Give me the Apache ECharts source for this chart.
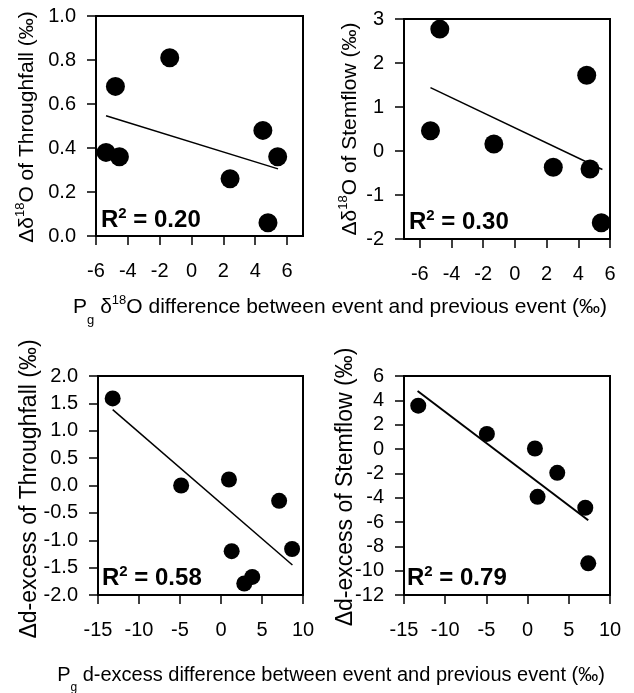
<!DOCTYPE html>
<html>
<head>
<meta charset="utf-8">
<script src="https://cdn.jsdelivr.net/npm/echarts@6/dist/echarts.min.js"></script>
<style>
  html, body { margin: 0; padding: 0; background: #fff; }
  #chart { width: 634px; height: 693px; }
</style>
</head>
<body>
<div id="chart"></div>
<script>
// Pg δ18O change vs Δδ18O of throughfall (TF) and stemflow (SF)
const o18DiffTF  = [-5.37, -4.78, -4.53, -1.37, 2.42, 4.48, 5.41, 4.80];
const o18DeltaTF = [0.38, 0.68, 0.36, 0.81, 0.26, 0.48, 0.36, 0.06];
const o18DiffSF  = [-5.33, -4.74, -1.33, 2.42, 4.53, 4.74, 5.45];
const o18DeltaSF = [0.46, 2.77, 0.16, -0.37, 1.72, -0.41, -1.63];

// Pg d-excess change vs Δd-excess of throughfall and stemflow
const dexDiffTF  = [-13.21, -4.86, 0.97, 1.30, 2.84, 3.81, 7.09, 8.67];
const dexDeltaTF = [1.59, 0.00, 0.11, -1.20, -1.79, -1.67, -0.28, -1.16];
const dexDiffSF  = [-13.27, -4.94, 0.89, 1.21, 3.60, 7.00, 7.36];
const dexDeltaSF = [3.56, 1.24, 0.04, -3.93, -1.96, -4.83, -9.40];

// Regression line end points per panel: x pair and y pair
const fitX = [[-5.37, 5.43], [-5.33, 5.52], [-13.21, 8.71], [-13.35, 7.36]];
const fitY = [[0.547, 0.305], [1.44, -0.42], [1.386, -1.453], [4.77, -5.85]];
const r2Text = ['0.20', '0.30', '0.58', '0.79'];

// Axis tick values
const xTicksO18 = [-6, -4, -2, 0, 2, 4, 6];
const xTicksDex = [-15, -10, -5, 0, 5, 10];

const FONT = 'Liberation Sans, Arial, Helvetica, sans-serif';
const INK = '#000';

const panels = [
  { grid: { left: 96, top: 16, width: 207, height: 220 },
    xs: o18DiffTF, ys: o18DeltaTF, xMin: -6, xMax: 7, xTicks: xTicksO18,
    yMin: 0, yMax: 1, yStep: 0.2, yDec: 1, sym: 19 },
  { grid: { left: 404, top: 19, width: 206, height: 220 },
    xs: o18DiffSF, ys: o18DeltaSF, xMin: -7, xMax: 6, xTicks: xTicksO18,
    yMin: -2, yMax: 3, yStep: 1, yDec: 0, sym: 19 },
  { grid: { left: 98, top: 376, width: 205, height: 219 },
    xs: dexDiffTF, ys: dexDeltaTF, xMin: -15, xMax: 10, xTicks: xTicksDex,
    yMin: -2, yMax: 2, yStep: 0.5, yDec: 1, sym: 16 },
  { grid: { left: 404, top: 376, width: 206, height: 219 },
    xs: dexDiffSF, ys: dexDeltaSF, xMin: -15, xMax: 10, xTicks: xTicksDex,
    yMin: -12, yMax: 6, yStep: 2, yDec: 0, sym: 16 }
];

const grids = [], xAxes = [], yAxes = [], series = [];
panels.forEach((p, i) => {
  grids.push(Object.assign({
    show: true, borderColor: INK, borderWidth: 2, backgroundColor: 'transparent',
    containLabel: false
  }, p.grid));
  xAxes.push({
    type: 'value', gridIndex: i, min: p.xMin, max: p.xMax,
    splitLine: { show: false },
    axisLine: { show: true, onZero: false, lineStyle: { color: INK, width: 2 } },
    axisTick: { show: true, inside: false, length: 9, customValues: p.xTicks,
      lineStyle: { color: INK, width: 1.5 } },
    axisLabel: { customValues: p.xTicks, margin: 25, color: INK,
      fontFamily: FONT, fontSize: 20 }
  });
  yAxes.push({
    type: 'value', gridIndex: i, min: p.yMin, max: p.yMax, interval: p.yStep,
    splitLine: { show: false },
    axisLine: { show: true, onZero: false, lineStyle: { color: INK, width: 2 } },
    axisTick: { show: true, inside: false, length: 9,
      lineStyle: { color: INK, width: 1.5 } },
    axisLabel: { margin: 20, color: INK, fontFamily: FONT, fontSize: 20,
      showMinLabel: true, showMaxLabel: true,
      formatter: v => Number(v).toFixed(p.yDec) }
  });
  series.push({
    type: 'line', xAxisIndex: i, yAxisIndex: i, silent: true,
    showSymbol: false, symbol: 'none',
    data: [[fitX[i][0], fitY[i][0]], [fitX[i][1], fitY[i][1]]],
    lineStyle: { color: INK, width: i === 3 ? 2 : 1.5 },
    z: 2
  });
  series.push({
    type: 'scatter', xAxisIndex: i, yAxisIndex: i,
    symbol: 'circle', symbolSize: p.sym,
    data: p.xs.map((x, k) => [x, p.ys[k]]),
    itemStyle: { color: INK, opacity: 1 },
    z: 3
  });
});

// rich styles for axis titles at a given base size
function titleRich(size) {
  const sm = Math.round(size * 0.62);
  return {
    t: { fontFamily: FONT, fontSize: size, fill: INK, lineHeight: size + 6 },
    s: { fontFamily: FONT, fontSize: sm, fill: INK, lineHeight: sm + 2, verticalAlign: 'top' },
    g: { fontFamily: FONT, fontSize: sm, fill: INK, lineHeight: sm, verticalAlign: 'bottom', padding: [0, 0, -6, 0] }
  };
}
const r2Rich = {
  b: { fontFamily: FONT, fontSize: 24, fontWeight: 'bold', fill: INK, lineHeight: 28 },
  s: { fontFamily: FONT, fontSize: 15, fontWeight: 'bold', fill: INK, lineHeight: 16, verticalAlign: 'top' }
};

function yTitle(x, y, size, body) {
  return { type: 'text', x: x, y: y, rotation: Math.PI / 2, silent: true,
    style: { text: body, align: 'center', verticalAlign: 'middle', rich: titleRich(size) } };
}
function xTitle(x, y, size, body) {
  return { type: 'text', x: x, y: y, silent: true,
    style: { text: body, align: 'center', verticalAlign: 'middle', rich: titleRich(size) } };
}
function r2(x, y, val) {
  return { type: 'text', x: x, y: y, silent: true, z: 10,
    style: { text: '{b|R}{s|2}{b| = ' + val + '}', align: 'left', verticalAlign: 'middle', rich: r2Rich } };
}

const graphics = [
  yTitle(27, 127, 21, '{t|Δδ}{s|18}{t|O of Throughfall (‰)}'),
  yTitle(350, 129, 21, '{t|Δδ}{s|18}{t|O of Stemflow (‰)}'),
  yTitle(30, 489, 23, '{t|Δd-excess of Throughfall (‰)}'),
  yTitle(346, 487, 23, '{t|Δd-excess of Stemflow (‰)}'),
  xTitle(340, 307, 21, '{t|P}{g|g}{t| δ}{s|18}{t|O difference between event and previous event (‰)}'),
  xTitle(331, 675, 20, '{t|P}{g|g}{t| d-excess difference between event and previous event (‰)}'),
  r2(101, 220, r2Text[0]),
  r2(409, 222, r2Text[1]),
  r2(102, 578, r2Text[2]),
  r2(407, 578, r2Text[3])
];

const chart = echarts.init(document.getElementById('chart'), null, { renderer: 'canvas' });
chart.setOption({
  animation: false,
  backgroundColor: '#fff',
  grid: grids,
  xAxis: xAxes,
  yAxis: yAxes,
  series: series,
  graphic: graphics
});
</script>
</body>
</html>
